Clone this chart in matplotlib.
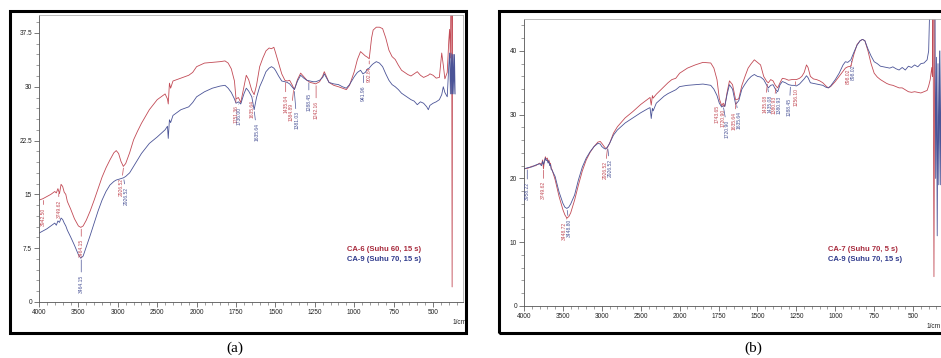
import numpy as np
import matplotlib
matplotlib.use('Agg')
import matplotlib.pyplot as plt
from matplotlib.patches import Rectangle
from matplotlib.ticker import FixedLocator, FuncFormatter

# --- data (wavenumber in 1/cm, %T) ---
wn_a = [4000, 3950, 3900, 3850, 3800, 3780, 3760, 3740, 3720, 3700,
        3680, 3660, 3640, 3600, 3550, 3500, 3470, 3440, 3400, 3350,
        3300, 3250, 3200, 3150, 3100, 3050, 3020, 2990, 2960, 2930,
        2900, 2850, 2800, 2750, 2700, 2600, 2500, 2450, 2400, 2370,
        2360, 2345, 2330, 2300, 2250, 2200, 2150, 2100, 2050, 2000,
        1950, 1900, 1850, 1820, 1800, 1780, 1760, 1750, 1735, 1720,
        1700, 1685, 1670, 1650, 1635, 1620, 1600, 1580, 1560, 1540,
        1525, 1510, 1500, 1480, 1460, 1440, 1425, 1410, 1395, 1380,
        1360, 1340, 1320, 1300, 1280, 1260, 1245, 1220, 1200, 1190,
        1180, 1160, 1130, 1100, 1075, 1050, 1030, 1000, 980, 960,
        945, 930, 915, 905, 890, 880, 860, 840, 820, 800,
        780, 760, 740, 720, 700, 680, 660, 640, 620, 600,
        580, 560, 540, 530, 520, 500, 480, 460, 445, 435,
        425, 410, 400, 395, 390, 386, 382, 379, 376, 372,
        368, 364, 360]
ca6_a = [14.2, 14.4, 14.7, 15.0, 15.4, 15.2, 15.8, 15.1, 16.4, 16.1,
         15.3, 15.0, 14.0, 13.0, 11.6, 10.6, 10.4, 10.6, 11.4, 12.7,
         14.2, 15.8, 17.4, 18.7, 19.8, 20.8, 21.1, 20.7, 19.6, 18.9,
         19.3, 20.8, 22.6, 23.8, 24.9, 26.8, 28.2, 28.6, 29.0, 28.3,
         27.6, 30.5, 29.8, 30.8, 31.0, 31.2, 31.4, 31.6, 32.0, 32.8,
         33.3, 33.4, 33.5, 33.6, 33.3, 32.5, 30.8, 28.3, 28.5, 27.8,
         30.0, 31.6, 31.0, 29.5, 28.9, 30.2, 32.8, 34.0, 35.0, 35.4,
         35.3, 35.5, 34.8, 33.3, 31.8, 30.9, 30.8, 30.9, 30.3, 29.6,
         31.0, 31.9, 31.4, 30.9, 30.6, 30.5, 30.4, 30.7, 31.5, 32.1,
         31.6, 30.6, 30.2, 30.0, 29.8, 29.6, 30.2, 32.1, 33.8, 34.9,
         34.6, 34.3, 34.1, 33.9, 36.8, 37.9, 38.3, 38.3, 38.1, 36.8,
         35.1, 34.2, 33.8, 33.0, 32.3, 32.0, 31.7, 31.5, 31.8, 32.1,
         31.6, 31.3, 31.5, 31.6, 31.8, 31.6, 31.2, 31.3, 34.7, 33.0,
         31.1, 32.0, 36.5, 38.0, 34.0, 45.0, 45.0, 2.1, 45.0, 45.0,
         45.0, 45.0, 45.0]
ca9_a = [9.6, 9.9, 10.2, 10.6, 11.0, 10.7, 11.3, 11.1, 11.7, 11.5,
         11.0, 10.6, 10.0, 9.1, 7.9, 6.6, 6.1, 6.4, 7.7, 9.3,
         11.0, 12.7, 14.2, 15.4, 16.3, 16.8, 17.0, 17.1, 17.2, 17.3,
         17.5, 18.0, 18.9, 19.8, 20.7, 22.1, 23.0, 23.5, 24.0, 24.5,
         22.8, 25.4, 25.0, 26.0, 26.4, 26.8, 27.0, 27.2, 27.8, 28.6,
         29.3, 29.8, 30.1, 30.2, 29.8, 29.2, 28.3, 27.7, 27.9, 27.6,
         29.0, 29.8, 29.4, 28.6, 26.8, 28.5, 30.0, 31.0, 32.1, 32.6,
         32.8, 32.6, 32.3, 31.5, 30.8, 30.7, 30.6, 30.4, 30.0, 29.6,
         30.8, 31.6, 31.2, 30.9, 30.8, 30.7, 30.7, 30.9, 31.3, 31.8,
         31.4, 30.6, 30.4, 30.3, 30.0, 29.8, 30.3, 31.4, 32.0, 32.3,
         31.8, 32.0, 32.5, 32.6, 33.0, 33.2, 33.5, 33.3, 32.8, 31.8,
         30.9, 30.3, 30.0, 29.6, 29.1, 28.8, 28.5, 28.2, 28.0, 27.5,
         27.9, 27.7, 27.2, 26.8, 27.4, 27.7, 27.9, 28.2, 28.9, 30.0,
         29.2, 28.6, 33.0, 34.7, 29.0, 34.7, 29.0, 34.5, 29.0, 34.5,
         29.0, 34.5, 29.0]

wn_b = [4000, 3950, 3900, 3850, 3800, 3775, 3760, 3750, 3740, 3725,
        3715, 3700, 3690, 3680, 3670, 3660, 3650, 3640, 3600, 3550,
        3500, 3475, 3450, 3425, 3400, 3350, 3300, 3250, 3200, 3150,
        3100, 3050, 3020, 3000, 2970, 2950, 2930, 2900, 2850, 2800,
        2700, 2600, 2500, 2400, 2380, 2365, 2350, 2340, 2300, 2200,
        2150, 2100, 2050, 2000, 1950, 1900, 1850, 1800, 1780, 1760,
        1745, 1730, 1720, 1710, 1695, 1680, 1660, 1640, 1620, 1600,
        1580, 1560, 1540, 1520, 1500, 1480, 1460, 1440, 1430, 1415,
        1400, 1385, 1370, 1355, 1340, 1320, 1300, 1280, 1265, 1250,
        1230, 1215, 1200, 1185, 1175, 1160, 1140, 1120, 1100, 1080,
        1060, 1045, 1030, 1000, 975, 950, 935, 920, 900, 880,
        860, 840, 825, 810, 790, 770, 750, 730, 710, 690,
        670, 650, 630, 610, 590, 570, 550, 530, 510, 490,
        470, 450, 430, 410, 400, 390, 380, 376, 372, 366,
        360, 355, 350, 345, 340, 335, 330, 325, 320, 315,
        310, 305, 300]
ca7_b = [21.5, 21.6, 21.9, 22.0, 22.4, 22.2, 22.9, 21.5, 22.6, 23.4,
         23.0, 23.2, 22.5, 22.9, 22.2, 22.4, 21.6, 21.4, 19.8, 17.2,
         15.1, 14.3, 13.8, 14.0, 14.6, 16.6, 19.0, 21.2, 22.9, 24.1,
         25.0, 25.7, 25.8, 25.5, 25.0, 24.7, 24.8, 25.5, 27.1, 28.1,
         29.5, 30.5, 31.6, 32.5, 32.7, 31.5, 33.0, 32.6, 33.2, 34.4,
         35.0, 35.5, 35.7, 36.5, 37.3, 37.8, 38.2, 38.1, 37.3, 35.5,
         32.5, 31.4, 31.8, 31.3, 33.5, 35.3, 34.7, 32.3, 32.5, 34.6,
         36.0, 37.3, 38.0, 38.6, 38.2, 37.8, 36.0, 35.2, 35.0, 35.5,
         35.3, 34.6, 34.2, 35.0, 35.7, 35.6, 35.4, 35.5, 35.5, 35.5,
         35.7, 36.0, 36.6, 37.8, 37.4, 36.0, 35.6, 35.5, 35.3, 35.0,
         34.5, 34.2, 34.4, 35.2, 36.0, 36.8, 37.3, 37.5, 37.6, 39.5,
         41.0, 41.6, 41.8, 41.6, 40.0, 38.0, 36.5, 35.9, 35.5, 35.2,
         34.9, 34.7, 34.6, 34.4, 34.2, 34.2, 33.9, 33.6, 33.5, 33.6,
         33.5, 33.4, 33.6, 33.8, 34.5, 35.5, 37.4, 36.0, 50.0, 4.6,
         50.0, 50.0, 50.0, 50.0, 50.0, 50.0, 50.0, 50.0, 50.0, 50.0,
         50.0, 50.0, 50.0]
ca9_b = [21.5, 21.7, 21.8, 22.1, 22.3, 22.0, 22.7, 22.2, 22.5, 23.2,
         22.8, 22.9, 22.4, 22.7, 22.0, 22.2, 21.4, 21.3, 20.3, 17.9,
         16.1, 15.5, 15.3, 15.5, 16.0, 17.4, 19.8, 21.8, 23.2, 24.2,
         25.0, 25.5, 25.4, 25.0, 24.7, 24.6, 24.9, 25.5, 26.8, 27.6,
         28.7, 29.5, 30.3, 31.0, 31.1, 29.4, 31.0, 30.6, 31.8, 32.9,
         33.3, 33.6, 33.9, 34.4, 34.6, 34.7, 34.8, 34.6, 34.0, 33.0,
         31.8, 31.2, 31.4, 31.3, 33.2, 34.7, 34.0, 31.6, 32.2, 34.0,
         34.8, 35.5, 36.0, 36.3, 36.0, 35.9, 35.5, 34.6, 34.2, 34.6,
         34.7, 34.0, 33.6, 34.7, 35.2, 35.0, 34.7, 34.6, 34.6, 34.5,
         34.8, 35.2, 35.6, 36.1, 35.8, 35.0, 34.9, 34.8, 34.7, 34.6,
         34.3, 34.2, 34.5, 35.5, 36.5, 37.8, 38.3, 38.2, 38.6, 39.8,
         40.9, 41.6, 41.8, 41.6, 40.3, 39.2, 38.3, 38.0, 37.6, 37.5,
         37.4, 37.3, 37.5, 37.2, 37.0, 37.4, 37.0, 37.6, 37.4, 37.8,
         37.5, 38.0, 38.1, 38.6, 40.0, 50.0, 50.0, 50.0, 50.0, 50.0,
         50.0, 20.0, 39.0, 11.0, 38.0, 19.0, 40.0, 19.0, 40.0, 19.0,
         40.0, 19.0, 40.0]

# peak labels: (wavenumber, text, gap below curve in px, sideways nudge in px)
peaks_a_red = [(3942, '3942.50', 9, 0), (3749, '3749.62', 8, 0), (3464, '3464.15', 12, 0),
               (2926, '2926.52', 12, -2.5), (1751, '1751.36', 8, 0), (1635, '1635.64', 5, -2.5),
               (1435, '1435.04', 14, 0), (1384, '1384.89', 15, -2.5), (1242, '1242.16', 17, 0),
               (905, '902.84', 8, 0)]
peaks_a_blue = [(3464, '3464.15', 17, 0), (2926, '2926.52', 9, 2.5), (1736, '1736.00', 5, 1),
                (1635, '1635.64', 13, 2.5), (1381, '1381.03', 22, 2.5), (1288, '1288.45', 12, 0),
                (941, '941.96', 12, 0)]
peaks_b_red = [(3749, '3749.62', 13, 0), (3448, '3448.72', 4, -2.5), (2926, '2926.52', 14, -2.5),
               (1743, '1743.65', 5, -3), (1720, '1720.90', 6, 0), (1635, '1635.64', 12, -2.5),
               (1435, '1435.08', 13, -2.5), (1380, '1380.93', 10, -2.5), (1256, '1256.10', 8, 1),
               (898, '898.02', 4, -2.5)]
peaks_b_blue = [(3958, '3958.22', 14, 0), (3448, '3448.80', 10, 2.5), (2926, '2926.52', 12, 2.5),
                (1720, '1720.90', 14, 4), (1635, '1635.64', 7, 2.5), (1435, '1435.08', 8, 2.5),
                (1380, '1380.93', 6, 2.5), (1288, '1288.45', 13, -1), (898, '898.02', 6, 2.5)]

names_a = ['CA-6 (Suhu 60, 15 s)', 'CA-9 (Suhu 70, 15 s)']
names_b = ['CA-7 (Suhu 70, 5 s)', 'CA-9 (Suhu 70, 15 s)']

x_major = [4000, 3500, 3000, 2500, 2000, 1750, 1500, 1250, 1000, 750, 500]
x_minor = list(range(4000, 2000, -100)) + list(range(2000, 300, -50))

RED, BLUE = '#c24a55', '#4b5497'
RED_TXT, BLUE_TXT = '#a82a3c', '#2f3a8c'
W, H = 941, 358

plt.rcParams['font.family'] = ['Liberation Sans', 'DejaVu Sans']


def wn_forward(x):
    # IR spectrometer axis: 500 1/cm per step above 2000, 250 per step below
    x = np.asarray(x, dtype=float)
    return np.where(x >= 2000, 6 + (x - 2000) / 500.0, (x - 500) / 250.0)


def wn_inverse(p):
    p = np.asarray(p, dtype=float)
    return np.where(p >= 6, 2000 + (p - 6) * 500.0, 500 + p * 250.0)


def label_peaks(ax, wn, y, peaks, color):
    wn_r = np.asarray(wn)[::-1]
    y_r = np.asarray(y)[::-1]
    for w, txt, gap, dx in peaks:
        yc = np.interp(w, wn_r, y_r)
        ax.annotate(txt, xy=(w, yc), xytext=(dx, -gap), textcoords='offset pixels',
                    rotation=90, ha='center', va='top', fontsize=3.6, color=color,
                    arrowprops=dict(arrowstyle='-', color=color, lw=0.5,
                                    shrinkA=0, shrinkB=1.5))


def draw_panel(ax, wn, y_red, y_blue, peaks_red, peaks_blue, names,
               ymax, ymajor, yminor, xright, leg_pos, unit_x):
    ax.plot(wn, y_red, color=RED, lw=0.6, label=names[0])
    ax.plot(wn, y_blue, color=BLUE, lw=0.6, label=names[1])
    label_peaks(ax, wn, y_red, peaks_red, RED)
    label_peaks(ax, wn, y_blue, peaks_blue, BLUE)

    ax.set_xscale('function', functions=(wn_forward, wn_inverse))
    ax.set_xlim(4000, xright)
    ax.set_ylim(0, ymax)
    ax.xaxis.set_major_locator(FixedLocator(x_major))
    ax.xaxis.set_minor_locator(FixedLocator(x_minor))
    ax.xaxis.set_major_formatter(FuncFormatter(lambda v, p: f'{v:.0f}'))
    ax.yaxis.set_major_locator(FixedLocator(np.arange(0, ymax + 0.01, ymajor)))
    ax.yaxis.set_minor_locator(FixedLocator(np.arange(0, ymax + 0.01, yminor)))
    ax.yaxis.set_major_formatter(FuncFormatter(lambda v, p: f'{v:g}'))

    ax.tick_params(which='major', direction='out', length=3.5, width=0.5,
                   colors='#444444', labelsize=4.7, labelcolor='#222222', pad=1.5)
    ax.tick_params(which='minor', direction='out', length=2, width=0.4, colors='#555555')
    for side in ['left', 'bottom']:
        ax.spines[side].set_color('#555555')
        ax.spines[side].set_linewidth(0.6)
    for side in ['top', 'right']:
        ax.spines[side].set_color('#b0b0b0')
        ax.spines[side].set_linewidth(0.6)

    leg = ax.legend(loc='lower left', bbox_to_anchor=leg_pos, frameon=False,
                    handlelength=0, handletextpad=0, borderpad=0, borderaxespad=0,
                    labelspacing=0.35, prop={'size': 5.5, 'weight': 'bold'},
                    labelcolor=[RED_TXT, BLUE_TXT])
    for h in leg.legend_handles:
        h.set_visible(False)
    ax.text(unit_x, -0.07, '1/cm', transform=ax.transAxes, fontsize=4.7,
            color='#222222', ha='left', va='center')


fig = plt.figure(figsize=(W / 100, H / 100), dpi=100)

# axes placed in pixel coordinates of the 941x358 picture
ax_a = fig.add_axes([39 / W, 1 - 302 / H, (463 - 39) / W, (302 - 15) / H])
ax_b = fig.add_axes([524 / W, 1 - 306 / H, (945 - 524) / W, (306 - 19) / H])

draw_panel(ax_a, wn_a, ca6_a, ca9_a, peaks_a_red, peaks_a_blue, names_a,
           40, 7.5, 1.5, 310, (0.726, 0.135), 0.975)
draw_panel(ax_b, wn_b, ca7_b, ca9_b, peaks_b_red, peaks_b_blue, names_b,
           45, 10, 2, 295, (0.722, 0.15), 0.955)

# outer frames and captions
fig.add_artist(Rectangle((10 / W, 1 - 333 / H), 456 / W, 322 / H,
                         transform=fig.transFigure, fill=False, lw=2.2, ec='black'))
fig.add_artist(Rectangle((499 / W, 1 - 333 / H), 450 / W, 322 / H,
                         transform=fig.transFigure, fill=False, lw=2.2, ec='black'))
fig.text(235 / W, 1 - 348 / H, '(a)', ha='center', va='center',
         family='Liberation Serif', fontsize=11)
fig.text(753 / W, 1 - 348 / H, '(b)', ha='center', va='center',
         family='Liberation Serif', fontsize=11)

fig.savefig('out.png', dpi=100)
